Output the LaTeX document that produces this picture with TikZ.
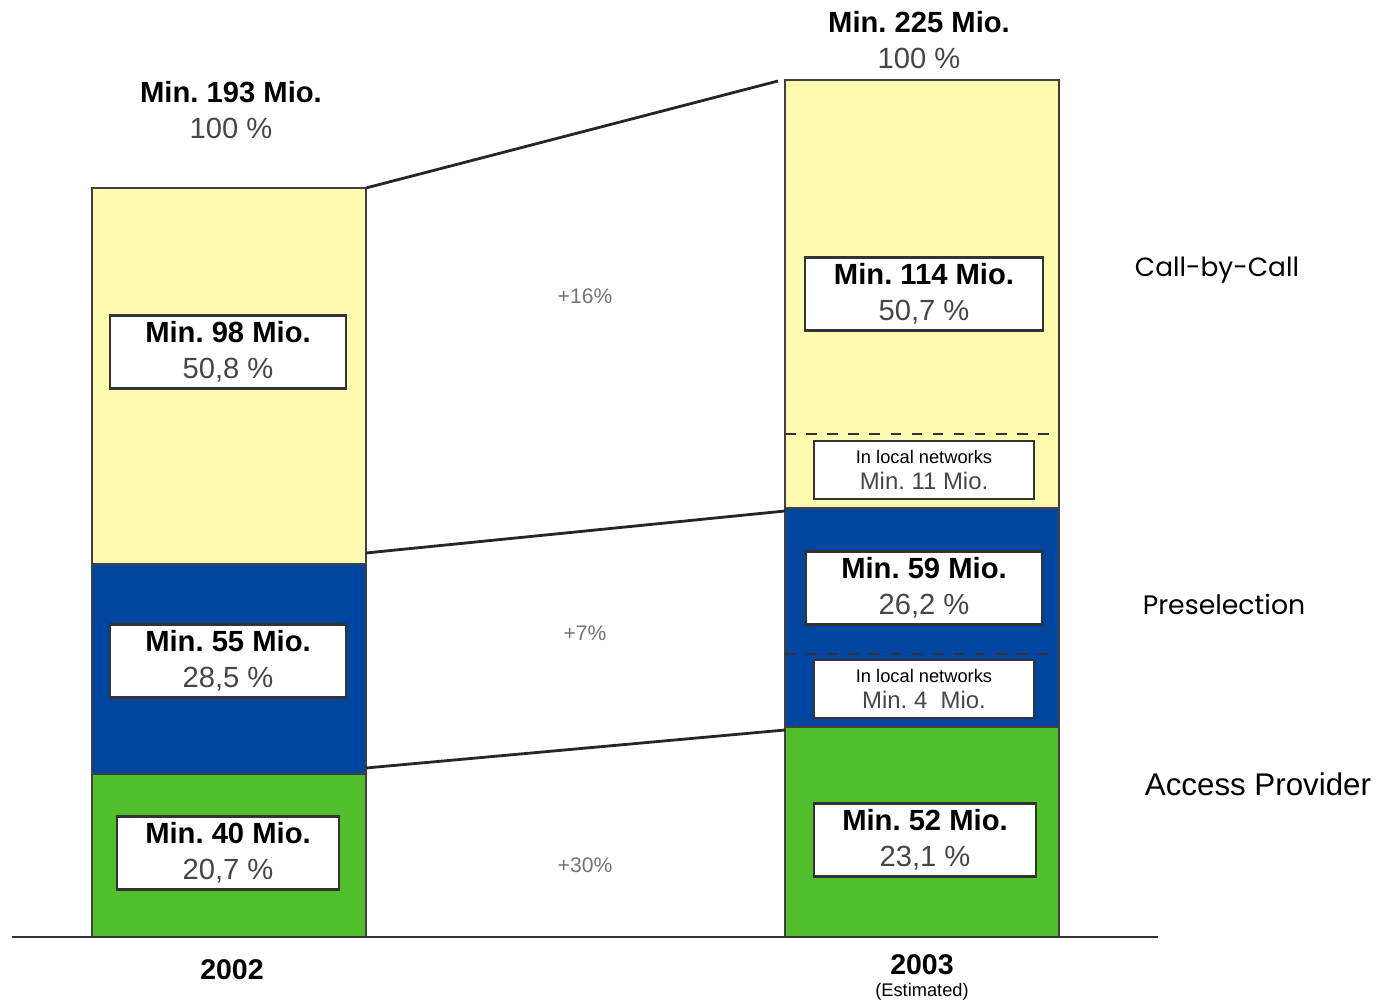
\documentclass[tikz,border=0pt]{standalone}
\usepackage{fontspec}
\setmainfont{Liberation Sans}
\newfontfamily\gothfont{Poppins}
\usetikzlibrary{positioning}
\definecolor{barYellow}{RGB}{255,252,178}
\definecolor{barBlue}{RGB}{0,70,160}
\definecolor{barGreen}{RGB}{82,190,44}
\definecolor{txtGray}{RGB}{70,70,70}
\frenchspacing
\begin{document}
\begin{tikzpicture}[x=0.01cm,y=-0.01cm,
  seg/.style={draw=black!75,line width=0.5pt},
  valbox/.style={draw=black!80,fill=white,line width=0.6pt,minimum width=2.35cm,minimum height=0.73cm,
    inner sep=0pt,align=center,font=\fontsize{8.3}{10.2}\selectfont},
  localbox/.style={draw=black!80,fill=white,line width=0.6pt,minimum width=2.2cm,minimum height=0.58cm,
    inner sep=0pt,align=center,font=\fontsize{5.2}{7.4}\selectfont},
  growth/.style={text=black!55,font=\fontsize{6}{7}\selectfont},
  catlabel/.style={font=\fontsize{8.9}{10}\selectfont,anchor=center},
  link/.style={line width=0.8pt,black!85}
]
\useasboundingbox (0,0) rectangle (1381,1001);

% the bar for 2002
\draw[seg,fill=barYellow] (92,188) rectangle (366,564);
\draw[seg,fill=barBlue] (92,564) rectangle (366,774);
\draw[seg,fill=barGreen] (92,774) rectangle (366,937);
\coordinate (ltop) at (366,188);
\coordinate (lmid) at (366,553);
\coordinate (lbot) at (366,768);

% the bar for 2003
\draw[seg,fill=barYellow] (785,80) rectangle (1059,508);
\draw[seg,fill=barBlue] (785,508) rectangle (1059,727);
\draw[seg,fill=barGreen] (785,727) rectangle (1059,937);
\draw[dashed,line width=0.8pt,black!80] (785,434) -- (1059,434);
\draw[dashed,line width=0.8pt,black!80] (785,654) -- (1059,654);
\coordinate (rtop) at (778,81);
\coordinate (rmid) at (785,511);
\coordinate (rbot) at (785,730);

% the baseline
\draw[line width=0.6pt,black!80] (12,937) -- (1158,937);

% the values of 2002
\node[valbox] (cbc02) at (228,352) {\textbf{Min. 98 Mio.}\\\textcolor{txtGray}{50,8 \%}};
\node[valbox] (pre02) at (228,661) {\textbf{Min. 55 Mio.}\\\textcolor{txtGray}{28,5 \%}};
\node[valbox,minimum width=2.22cm] (acc02) at (228,853) {\textbf{Min. 40 Mio.}\\\textcolor{txtGray}{20,7 \%}};

% the values of 2003
\node[valbox,minimum width=2.37cm] (cbc03) at (924,294) {\textbf{Min. 114 Mio.}\\\textcolor{txtGray}{50,7 \%}};
\node[localbox] (loc11) at (924,470) {In local networks\\
  \textcolor{txtGray}{\fontsize{6.8}{7.4}\selectfont Min. 11 Mio.}};
\node[valbox,minimum width=2.36cm] (pre03) at (924,588) {\textbf{Min. 59 Mio.}\\\textcolor{txtGray}{26,2 \%}};
\node[localbox] (loc4) at (924,689) {In local networks\\
  \textcolor{txtGray}{\fontsize{6.8}{7.4}\selectfont Min. 4\ \ Mio.}};
\node[valbox,minimum width=2.22cm] (acc03) at (925,840) {\textbf{Min. 52 Mio.}\\\textcolor{txtGray}{23,1 \%}};

% the totals
\node[align=center,font=\fontsize{8.3}{10.2}\selectfont] (tot02) at (231,110) {\textbf{Min. 193 Mio.}\\\textcolor{txtGray}{100 \%}};
\node[align=center,font=\fontsize{8.3}{10.2}\selectfont] (tot03) at (919,40) {\textbf{Min. 225 Mio.}\\\textcolor{txtGray}{100 \%}};

% the years
\node[font=\bfseries\fontsize{8.1}{10}\selectfont] (y02) at (232,970) {2002};
\node[font=\bfseries\fontsize{8.1}{10}\selectfont] (y03) at (922,965) {2003};
\node[font=\fontsize{5.2}{6}\selectfont,inner sep=0pt] (est) at (922,992) {(Estimated)};

% the growth rates
\node[growth] (g16) at (585,296) {+16\%};
\node[growth] (g7) at (585,633) {+7\%};
\node[growth] (g30) at (585,865) {+30\%};

% the categories
\node[catlabel,font=\gothfont\fontsize{7.5}{9}\selectfont] (cbc) at (1217,270) {Call-by-Call};
\node[catlabel,font=\gothfont\fontsize{7.6}{9}\selectfont] (pre) at (1224,604) {Preselection};
\node[catlabel] (acc) at (1258,784) {Access Provider};

% the links
\draw[link] (ltop) -- (rtop);
\draw[link] (lmid) -- (rmid);
\draw[link] (lbot) -- (rbot);
\end{tikzpicture}
\end{document}
